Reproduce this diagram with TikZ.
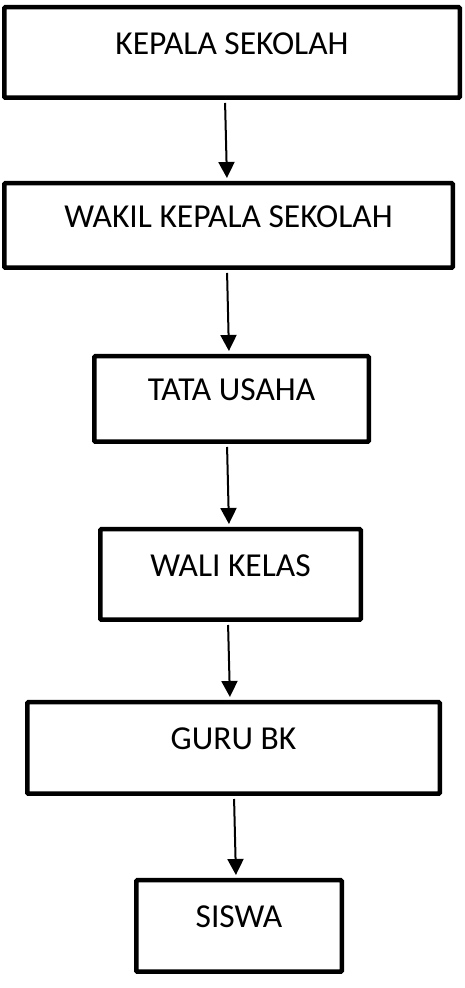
\documentclass[tikz,border=0pt]{standalone}
\usepackage{fontspec}
\setmainfont{Carlito}
\usetikzlibrary{arrows.meta,positioning}

\begin{document}
\begin{tikzpicture}[x=1pt,y=1pt,on grid,
	box/.style={draw, line width=4.5pt, rounded corners=1pt, inner sep=0pt,
		text height=24pt, text depth=20pt, font=\fontsize{33.5}{40}\selectfont},
	arr/.style={-{Triangle[width=16pt,length=16pt]}, line width=2pt,
		shorten <=3pt, shorten >=3pt}]
		\useasboundingbox (0,0) rectangle (464,988);
		\node[box, minimum width=455.5pt, minimum height=90.5pt] (kepsek) at (232,935.5) {KEPALA SEKOLAH};
		\node[box, minimum width=448.5pt, minimum height=84.5pt, below = 173pt of kepsek, xshift=-3.5pt] (wakasek) {WAKIL KEPALA SEKOLAH};
		\node[box, minimum width=274.5pt, minimum height=85.5pt, below = 173.5pt of wakasek, xshift=3pt] (tu) {TATA USAHA};
		\node[box, minimum width=260.5pt, minimum height=90.5pt, below = 175.5pt of tu, xshift=-1pt] (walas) {WALI KELAS};
		\node[box, minimum width=412.5pt, minimum height=91.5pt, below = 173.5pt of walas, xshift=3pt] (bk) {GURU BK};
		\node[box, minimum width=205.5pt, minimum height=91.5pt, below = 178pt of bk, xshift=5.5pt] (siswa) {SISWA};
		
		\draw[arr] ([xshift=-7pt]kepsek.south) -- ([xshift=-1.5pt]wakasek.north);
		\draw[arr] ([xshift=-1.5pt]wakasek.south) -- ([xshift=-2.5pt]tu.north);
		\draw[arr] ([xshift=-4.5pt]tu.south) -- ([xshift=-1.5pt]walas.north);
		\draw[arr] ([xshift=-2.5pt]walas.south) -- ([xshift=-3.5pt]bk.north);
		\draw[arr] ([xshift=0.5pt]bk.south) -- ([xshift=-3pt]siswa.north);
\end{tikzpicture}
\end{document}
